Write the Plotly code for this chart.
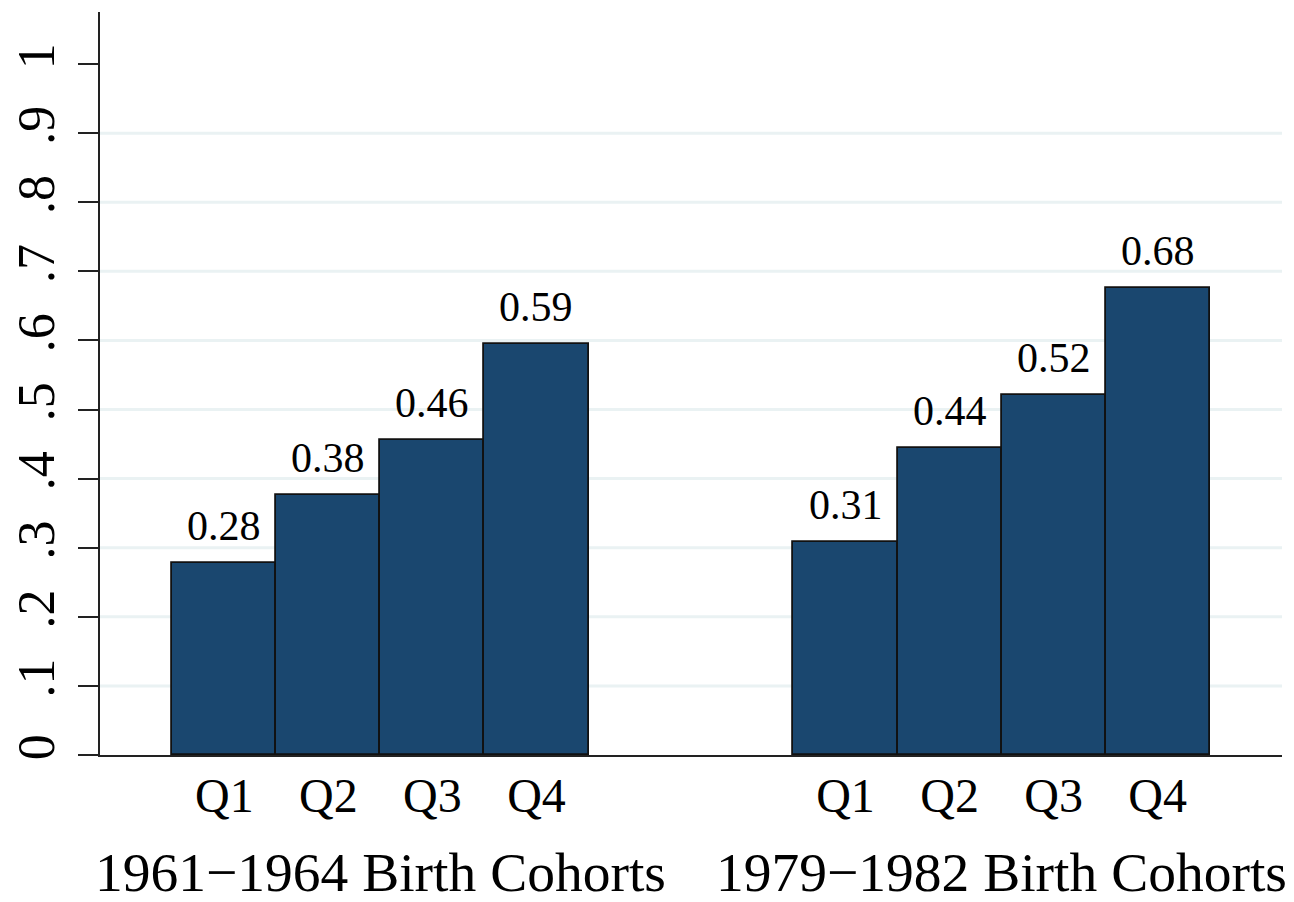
import plotly.graph_objects as go

# ---- data ----
cohorts = ["1961\u22121964 Birth Cohorts", "1979\u22121982 Birth Cohorts"]
quartiles = ["Q1", "Q2", "Q3", "Q4"]
values_1961 = [0.278, 0.376, 0.456, 0.595]
values_1979 = [0.308, 0.444, 0.521, 0.676]
ytick_vals = [0, 0.1, 0.2, 0.3, 0.4, 0.5, 0.6, 0.7, 0.8, 0.9, 1.0]
ytick_text = ["0", ".1", ".2", ".3", ".4", ".5", ".6", ".7", ".8", ".9", "1"]
grid_vals = [0.1, 0.2, 0.3, 0.4, 0.5, 0.6, 0.7, 0.8, 0.9]

# ---- layout parameters (in bar-width units) ----
outer_pad = 0.695
group_gap = 1.97
FONT = "Liberation Serif"
NAVY = "#1a476f"

series = [values_1961, values_1979]
xs, ys, labels, group_centers = [], [], [], []
for g, vals in enumerate(series):
    start = outer_pad + g * (len(quartiles) + group_gap)
    centers = [start + q + 0.5 for q in range(len(quartiles))]
    xs += centers
    ys += vals
    labels += quartiles
    group_centers.append(start + len(quartiles) / 2)
x_max = outer_pad * 2 + 2 * len(quartiles) + group_gap

fig = go.Figure()
fig.add_trace(go.Bar(
    x=xs, y=ys, width=1.0,
    marker=dict(color=NAVY, line=dict(color="#111111", width=1.8)),
    showlegend=False, hoverinfo="skip",
))

for x, y in zip(xs, ys):
    fig.add_annotation(x=x, y=y, xref="x", yref="y", text=f"{y:.2f}",
                       showarrow=False, yanchor="bottom", yshift=12,
                       font=dict(family=FONT, size=42, color="black"))

for gx, name in zip(group_centers, cohorts):
    fig.add_annotation(x=gx, y=0, xref="x", yref="paper", text=name,
                       showarrow=False, yanchor="top", yshift=-85,
                       font=dict(family=FONT, size=55.5, color="black"))

for gv in grid_vals:
    fig.add_shape(type="line", xref="paper", yref="y", x0=0, x1=1, y0=gv, y1=gv,
                  line=dict(color="#eaf2f3", width=3), layer="below")

fig.update_layout(
    width=1286, height=894,
    margin=dict(l=92, r=12, t=4, b=147),
    plot_bgcolor="white", paper_bgcolor="white",
    font=dict(family=FONT, color="black"),
    bargap=0,
    xaxis=dict(range=[0, x_max], tickvals=xs, ticktext=labels,
               showgrid=False, zeroline=False, showline=True,
               linecolor="#222222", linewidth=2, ticks="", automargin=False,
               tickfont=dict(family=FONT, size=48, color="black"),
               ticklabelstandoff=-3),
    yaxis=dict(range=[0, 1.0753], tickvals=ytick_vals, ticktext=ytick_text,
               showgrid=False, zeroline=False, showline=True, automargin=False,
               linecolor="#222222", linewidth=2, ticks="outside",
               ticklen=20, tickwidth=2, tickcolor="#222222", tickangle=-90,
               ticklabelstandoff=3,
               tickfont=dict(family=FONT, size=52, color="black")),
)

fig.write_html("out.html")
